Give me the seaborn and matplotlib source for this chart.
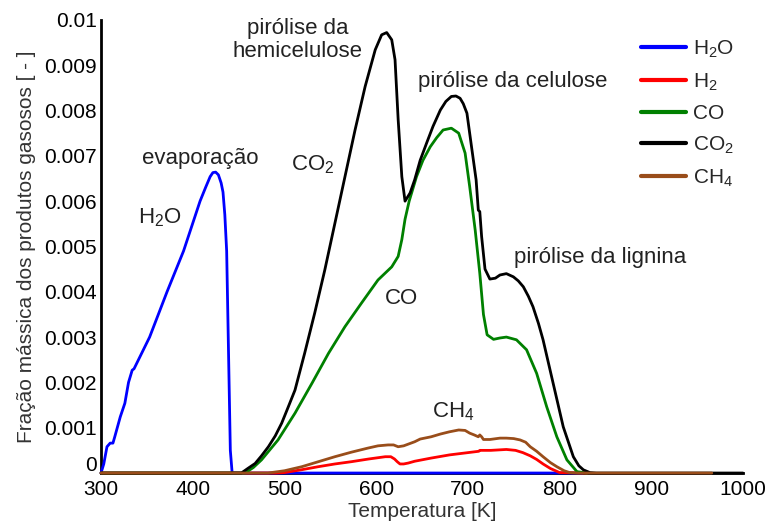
import numpy as np
import pandas as pd
import matplotlib
matplotlib.use("Agg")
import matplotlib.pyplot as plt
import matplotlib.transforms as mtransforms
import seaborn as sns

# ---- data ----
t_h2o = [300, 303, 306.5, 310, 313, 315, 321, 326, 330, 334, 336, 353, 372, 390, 408, 414, 419, 422, 425, 428, 431, 433, 435, 437, 439, 441, 443, 600, 825]
y_h2o = [0, 0.0002, 0.00058, 0.00066, 0.00066, 0.0008, 0.00124, 0.00154, 0.002, 0.00227, 0.0023, 0.003, 0.004, 0.0049, 0.006, 0.0063, 0.00654, 0.00663, 0.00664, 0.00658, 0.0064, 0.0062, 0.0057, 0.0049, 0.0027, 0.0005, 0, 0, 0]

t_h2 = [300, 490, 500, 518, 537, 555, 573, 592, 610, 616, 620, 623, 626, 630, 635, 642, 660, 680, 700, 712, 713, 725, 742, 752, 760, 768, 775, 782, 790, 800, 830]
y_h2 = [0, 0, 0.00001, 0.00007, 0.00014, 0.0002, 0.00025, 0.00031, 0.00036, 0.00036, 0.00031, 0.00025, 0.0002, 0.0002, 0.00022, 0.00026, 0.00033, 0.0004, 0.00045, 0.00048, 0.0005, 0.0005, 0.00052, 0.0005, 0.00045, 0.00038, 0.0003, 0.0002, 0.0001, 0.00001, 0]

t_co = [300, 457, 466, 475, 493, 511.5, 530, 548, 566, 584, 602, 617, 624, 628, 631.5, 636, 644, 651, 659, 666, 673, 682, 690, 697, 702, 708, 713, 717, 721, 728, 735, 742, 753, 764, 775, 786, 797, 808, 819, 830]
y_co = [0, 0, 0.00012, 0.00029, 0.00073, 0.00132, 0.00198, 0.00264, 0.00323, 0.00375, 0.00426, 0.00455, 0.00478, 0.00515, 0.0056, 0.006, 0.00654, 0.0069, 0.0072, 0.0074, 0.00757, 0.00761, 0.0075, 0.00706, 0.00632, 0.00536, 0.00441, 0.0035, 0.00305, 0.00295, 0.00298, 0.003, 0.00294, 0.00272, 0.0022, 0.00146, 0.0008, 0.00029, 0.00003, 0]

t_co2 = [300, 453, 460, 468, 475, 482.5, 490, 497, 504, 511.5, 522, 533, 544, 555, 566, 577, 588, 599, 606, 611.5, 617, 620.6, 624, 628, 631.5, 637, 642, 648, 655, 662, 670, 676, 682, 687, 691.5, 695, 699, 704, 709, 711.4, 713, 715, 718.7, 724, 730, 735, 742, 749.6, 755, 760.5, 766, 771, 777, 782, 793, 804, 815, 821, 826, 833, 840, 1000]
y_co2 = [0, 0, 0.0001, 0.00021, 0.00038, 0.00058, 0.00082, 0.0011, 0.00145, 0.00183, 0.00264, 0.00353, 0.00448, 0.00551, 0.00654, 0.00757, 0.00853, 0.00934, 0.00967, 0.00972, 0.00956, 0.00912, 0.0078, 0.00654, 0.006, 0.00618, 0.00647, 0.0069, 0.00728, 0.00765, 0.00801, 0.0082, 0.00831, 0.00832, 0.00827, 0.00815, 0.00794, 0.0072, 0.00647, 0.0058, 0.00577, 0.00522, 0.0045, 0.00428, 0.0043, 0.00437, 0.0044, 0.00433, 0.00424, 0.00411, 0.0039, 0.00367, 0.0033, 0.00294, 0.00198, 0.00102, 0.00036, 0.00016, 0.00007, 0.00001, 0, 0]

t_ch4 = [300, 482, 500, 519, 537, 555, 573, 591, 602, 613, 619, 624, 630, 642, 648, 660, 670, 680, 690, 697, 702, 707, 711.4, 713, 715, 717, 724, 735, 742, 750, 757, 763, 768, 775, 782, 790, 797, 805, 811, 820, 966]
y_ch4 = [0, 0, 0.00005, 0.00014, 0.00025, 0.00036, 0.00046, 0.00055, 0.0006, 0.00062, 0.00062, 0.00058, 0.0006, 0.00069, 0.00075, 0.0008, 0.00086, 0.00091, 0.00095, 0.00094, 0.00088, 0.00084, 0.0008, 0.00084, 0.0008, 0.00074, 0.00074, 0.00077, 0.00077, 0.00076, 0.00073, 0.00068, 0.00058, 0.00048, 0.00036, 0.00023, 0.00014, 0.00005, 0.00001, 0, 0]

gases = ["H$_2$O", "H$_2$", "CO", "CO$_2$", "CH$_4$"]
colors = ["#0000ff", "#ff0000", "#008000", "#000000", "#994d1a"]
x_ticks = [300, 400, 500, 600, 700, 800, 900, 1000]
y_ticks = [0, 0.001, 0.002, 0.003, 0.004, 0.005, 0.006, 0.007, 0.008, 0.009, 0.01]
y_tick_labels = ["0", "0.001", "0.002", "0.003", "0.004", "0.005", "0.006", "0.007", "0.008", "0.009", "0.01"]

frames = []
for g, t, y in zip(gases, [t_h2o, t_h2, t_co, t_co2, t_ch4], [y_h2o, y_h2, y_co, y_co2, y_ch4]):
    frames.append(pd.DataFrame({"T": t, "y": y, "gas": g}))
df = pd.concat(frames, ignore_index=True)

sns.set_style("white")
plt.rcParams["font.family"] = ["Liberation Sans", "DejaVu Sans"]
plt.rcParams["mathtext.default"] = "regular"

fig = plt.figure(figsize=(7.67, 5.30), dpi=100)
ax = fig.add_axes([0.1317, 0.1075, 0.837, 0.855])

sns.lineplot(data=df, x="T", y="y", hue="gas", hue_order=gases, palette=colors,
             estimator=None, sort=False, linewidth=2, ax=ax, zorder=3, clip_on=False)

ax.set_xlim(300, 1000)
ax.set_ylim(0, 0.01)
ax.set_xticks(x_ticks)
ax.set_xticklabels([str(v) for v in x_ticks])
ax.set_yticks(y_ticks)
ax.set_yticklabels(y_tick_labels)
ax.tick_params(direction="in", length=5, width=2, labelsize=15, colors="black")
ax.tick_params(axis="x", pad=5)
ax.tick_params(axis="y", pad=3)
for s in ["top", "right"]:
    ax.spines[s].set_visible(False)
for s in ["left", "bottom"]:
    ax.spines[s].set_linewidth(2)
    ax.spines[s].set_color("black")

# lift the "0" label slightly, as in the reference
lab0 = ax.get_yticklabels()[0]
lab0.set_transform(lab0.get_transform() + mtransforms.ScaledTranslation(0, 7 / 72, fig.dpi_scale_trans))

ax.set_xlabel("Temperatura [K]", fontsize=15, color="#333333", labelpad=2)
ax.set_ylabel("Fração mássica dos produtos gasosos [ - ]", fontsize=15, color="#333333", labelpad=6)

ann_kw = dict(fontsize=16, color="#222222", ha="center", va="center")
ax.text(408, 0.00695, "evaporação", **ann_kw)
ax.text(364, 0.00563, "H$_2$O", **ann_kw)
ax.text(514, 0.00955, "pirólise da\nhemicelulose", linespacing=1.15, **ann_kw)
ax.text(531, 0.0068, "CO$_2$", **ann_kw)
ax.text(749, 0.00863, "pirólise da celulose", **ann_kw)
ax.text(628, 0.00386, "CO", **ann_kw)
ax.text(844, 0.00475, "pirólise da lignina", **ann_kw)
ax.text(684, 0.00135, "CH$_4$", **ann_kw)

handles, labels = ax.get_legend_handles_labels()
leg = ax.legend(handles, labels, loc="upper right", bbox_to_anchor=(1.015, 1.0), frameon=False,
                fontsize=15, handlelength=2.2, handletextpad=0.3, labelspacing=0.55)
for line in leg.get_lines():
    line.set_linewidth(3)

fig.savefig("out.png", dpi=100)
